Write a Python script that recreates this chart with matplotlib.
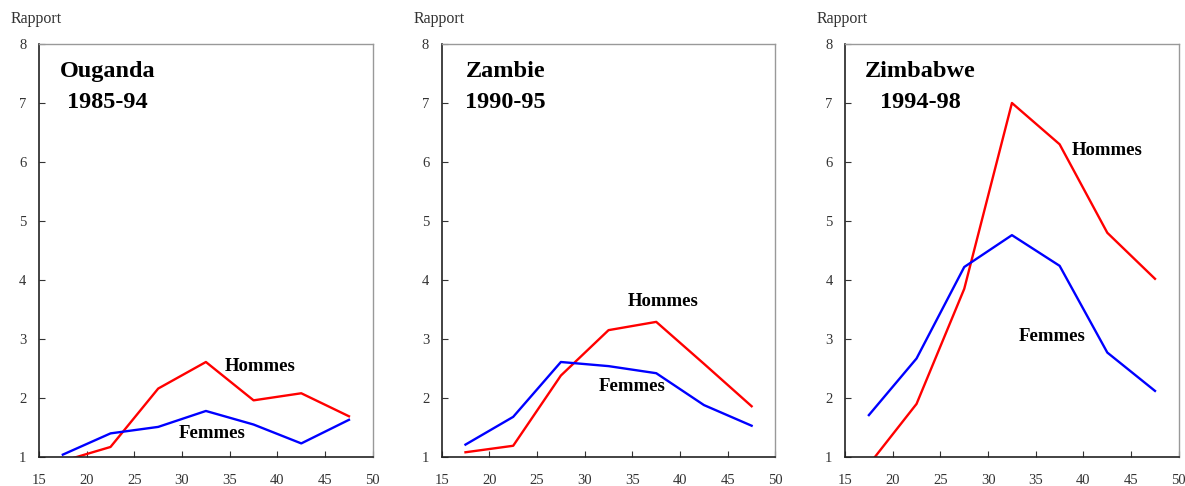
import matplotlib
matplotlib.use("Agg")
import matplotlib.pyplot as plt

plt.rcParams['font.family'] = ['Liberation Serif', 'DejaVu Serif']

# Groupes d'âge (milieu des classes)
ages = [17.5, 22.5, 27.5, 32.5, 37.5, 42.5, 47.5]

# Rapport par pays
ouganda_hommes = [0.93, 1.17, 2.16, 2.61, 1.96, 2.08, 1.69]
ouganda_femmes = [1.04, 1.40, 1.51, 1.78, 1.55, 1.23, 1.63]
zambie_hommes = [1.08, 1.19, 2.38, 3.15, 3.29, 2.58, 1.86]
zambie_femmes = [1.21, 1.68, 2.61, 2.54, 2.42, 1.88, 1.53]
zimbabwe_hommes = [0.87, 1.90, 3.85, 7.00, 6.30, 4.80, 4.02]
zimbabwe_femmes = [1.71, 2.67, 4.22, 4.76, 4.24, 2.77, 2.12]

pays = ["Ouganda", "Zambie", "Zimbabwe"]
periodes = ["1985-94", "1990-95", "1994-98"]
hommes = [ouganda_hommes, zambie_hommes, zimbabwe_hommes]
femmes = [ouganda_femmes, zambie_femmes, zimbabwe_femmes]

x_ticks = [15, 20, 25, 30, 35, 40, 45, 50]
y_ticks = [1, 2, 3, 4, 5, 6, 7, 8]

# positions des étiquettes (coordonnées des données)
titre_pos = [(22.2, 7.53, 7.0), (21.7, 7.53, 7.0), (22.9, 7.53, 7.0)]
hommes_pos = [(38.2, 2.53), (38.2, 3.63), (42.5, 6.2)]
femmes_pos = [(33.2, 1.39), (35.0, 2.19), (36.7, 3.05)]

fig = plt.figure(figsize=(11.85, 4.86), dpi=100)
lefts = [0.0329, 0.3727, 0.7131]

for i in range(3):
    ax = fig.add_axes([lefts[i], 0.0597, 0.2817, 0.8498])
    ax.plot(ages, hommes[i], color='#ff0000', lw=1.7)
    ax.plot(ages, femmes[i], color='#0000ff', lw=1.7)
    ax.set_xlim(15, 50)
    ax.set_ylim(1, 8)
    ax.set_xticks(x_ticks)
    ax.set_yticks(y_ticks)
    ax.tick_params(direction='in', length=4, labelsize=10.5, colors='#333333')
    ax.tick_params(axis='x', pad=12)
    ax.tick_params(axis='y', pad=9)
    for s in ['left', 'bottom']:
        ax.spines[s].set_color('#222222')
        ax.spines[s].set_linewidth(1.2)
    for s in ['top', 'right']:
        ax.spines[s].set_color('#999999')
        ax.spines[s].set_linewidth(1.0)

    tx, ty1, ty2 = titre_pos[i]
    ax.text(tx, ty1, pays[i], ha='center', va='center', fontsize=17.5, fontweight='bold')
    ax.text(tx, ty2, periodes[i], ha='center', va='center', fontsize=17.5, fontweight='bold')
    ax.text(hommes_pos[i][0], hommes_pos[i][1], "Hommes", ha='center', va='center',
            fontsize=13.5, fontweight='bold')
    ax.text(femmes_pos[i][0], femmes_pos[i][1], "Femmes", ha='center', va='center',
            fontsize=13.5, fontweight='bold')
    ax.text(-0.084, 1.06, "Rapport", transform=ax.transAxes, ha='left', va='center',
            fontsize=11.5, color='#333333')

fig.savefig("out.png", dpi=100)
